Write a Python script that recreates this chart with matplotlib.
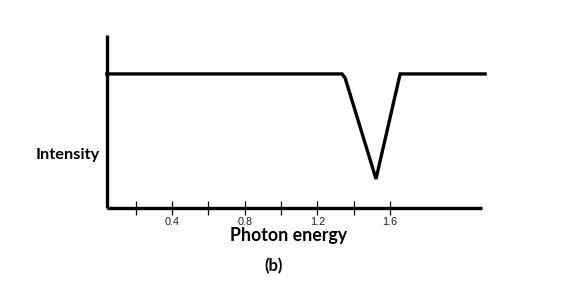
import matplotlib
matplotlib.use("Agg")
import matplotlib.pyplot as plt

# Data
energy = [0.04, 1.336, 1.353, 1.523, 1.656, 2.124]
intensity = [0.775, 0.775, 0.751, 0.168, 0.775, 0.775]
tick_values = [0.2, 0.4, 0.6, 0.8, 1.0, 1.2, 1.4, 1.6]
tick_labels = ["", "0.4", "", "0.8", "", "1.2", "", "1.6"]

W, H = 580, 282
fig = plt.figure(figsize=(W / 100, H / 100), dpi=100)
left, right, bottom, top = 107, 482, 208, 35
ax = fig.add_axes([left / W, (H - bottom) / H, (right - left) / W, (bottom - top) / H])

ax.plot(energy, intensity, color="black", lw=2.4, clip_on=False, solid_joinstyle="miter")
ax.set_xlim(0.041, 2.107)
ax.set_ylim(0, 1)

for s in ["top", "right"]:
    ax.spines[s].set_visible(False)
for s in ["left", "bottom"]:
    ax.spines[s].set_linewidth(2.4)
    ax.spines[s].set_capstyle("butt")

ax.set_yticks([])
ax.set_xticks(tick_values)
ax.set_xticklabels(tick_labels, fontsize=7.8, family="Liberation Sans", color="#222222")
ax.tick_params(axis="x", direction="inout", length=9.5, width=0.9, pad=1.5)

fig.text(289 / W, (H - 235) / H, "Photon energy", ha="center", va="center",
         fontsize=12.8, fontweight="bold", family="Lato")
fig.text(100 / W, (H - 155) / H, "Intensity", ha="right", va="center",
         fontsize=11.8, fontweight="bold", family="Lato")
fig.text(274 / W, (H - 266) / H, "(b)", ha="center", va="center",
         fontsize=12, fontweight="bold", family="Lato")

fig.savefig("out.png", dpi=100)
